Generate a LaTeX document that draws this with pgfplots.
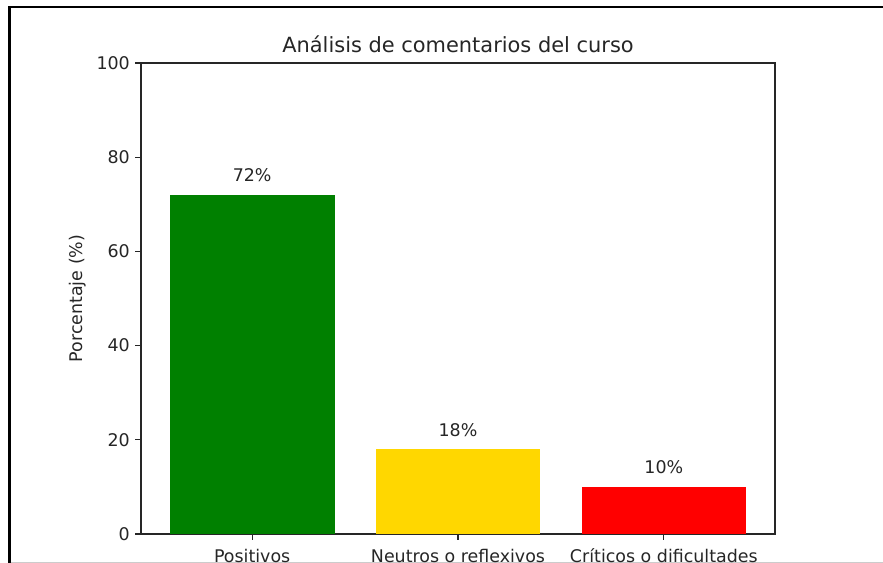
\documentclass[border=0pt]{standalone}
\usepackage{fontspec}
\setmainfont{DejaVu Sans}
\usepackage{pgfplots}
\pgfplotsset{compat=1.18}

\definecolor{mplgreen}{RGB}{0,128,0}
\definecolor{mplgold}{RGB}{255,215,0}
\definecolor{mplred}{RGB}{255,0,0}

\begin{document}
\begin{tikzpicture}[x=1bp,y=1bp]
\useasboundingbox (0,0) rectangle (883,563);
\clip (0,0) rectangle (883,563);
\fill[white] (0,0) rectangle (883,563);
% screenshot frame
\draw[line width=2.2bp] (9.5,-5) -- (9.5,556) -- (890,556);
\draw[line width=1.2bp, black!20] (10.5,0.6) -- (890,0.6);

\begin{axis}[
    at={(141bp,29bp)}, anchor=south west,
    scale only axis,
    width=634bp, height=471bp,
    xmin=-0.54, xmax=2.54,
    ymin=0, ymax=100,
    xtick={0,1,2},
    xticklabels={Positivos, Neutros o reflexivos, Críticos o dificultades},
    ytick={0,20,40,60,80,100},
    xtick pos=bottom, ytick pos=left,
    tick align=outside,
    major tick length=6bp,
    tick style={black!85, line width=1.1bp},
    axis line style={black!85, line width=1.2bp},
    /pgf/number format/assume math mode=true,
    ticklabel style={font=\fontsize{17.5}{20}\selectfont, text=black!85},
    xticklabel style={anchor=base, inner sep=0pt, yshift=-23bp},
    yticklabel style={anchor=east, inner sep=0pt, xshift=-5bp},
    title={Análisis de comentarios del curso},
    title style={at={(axis description cs:0.5,1)}, anchor=base, yshift=5bp,
                 font=\fontsize{21}{24}\selectfont, text=black!85},
    ylabel={Porcentaje (\%)},
    ylabel style={at={(axis description cs:-0.0994,0.5)}, anchor=center,
                  font=\fontsize{17.5}{20}\selectfont, text=black!85},
    ybar, bar width=0.8, bar shift=0pt,
    nodes near coords={\pgfmathprintnumber{\pgfplotspointmeta}\%},
    every node near coord/.append style={anchor=base, yshift=13bp, inner sep=0pt,
                 font=\fontsize{17.5}{20}\selectfont, text=black!85},
]
\addplot[fill=mplgreen, draw=none] coordinates {(0,72)};
\addplot[fill=mplgold, draw=none] coordinates {(1,18)};
\addplot[fill=mplred, draw=none] coordinates {(2,10)};
\end{axis}
\end{tikzpicture}
\end{document}
